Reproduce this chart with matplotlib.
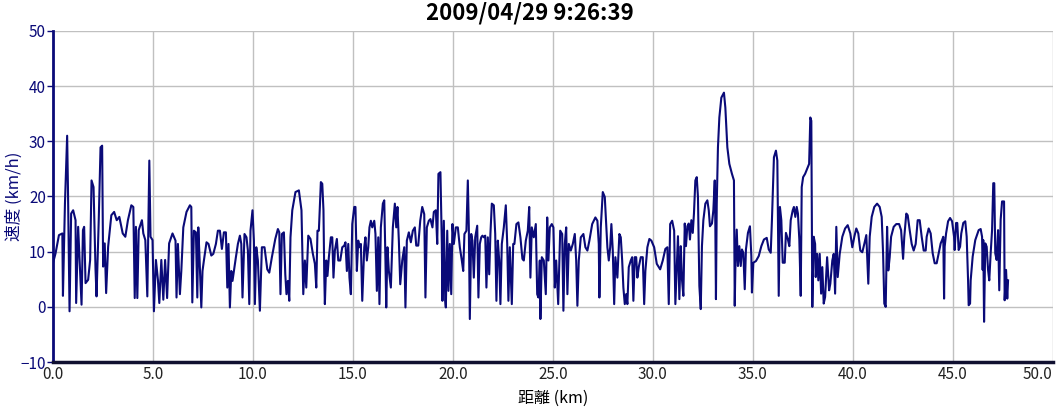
import matplotlib
matplotlib.use("Agg")
import matplotlib.pyplot as plt

# (distance km, speed km/h), one list per stretch of the ride
seg_00_06 = [(0.0, 7.9), (0.13, 9.7), (0.3, 13.0), (0.47, 13.3), (0.5, 2.0), (0.6, 18.7), (0.71, 31.0),
             (0.75, 21.7), (0.83, -0.8), (0.91, 16.9), (1.01, 17.5), (1.13, 15.7), (1.16, 0.7), (1.26, 14.5),
             (1.33, 8.5), (1.43, 0.4), (1.5, 13.9), (1.56, 14.5), (1.63, 4.3), (1.76, 4.9), (1.86, 8.5),
             (1.93, 22.9), (2.03, 21.7), (2.13, 6.7), (2.18, 1.9), (2.29, 15.7), (2.38, 28.9), (2.46, 29.2),
             (2.51, 7.3), (2.59, 11.5), (2.66, 2.5), (2.76, 10.9), (2.92, 16.6), (3.06, 17.2), (3.19, 15.7),
             (3.32, 16.3), (3.49, 13.3), (3.62, 12.7), (3.75, 15.7), (3.92, 18.4), (4.02, 18.1), (4.09, 1.6),
             (4.15, 14.5), (4.22, 1.6), (4.29, 13.9), (4.45, 15.7), (4.52, 13.3), (4.62, 12.1), (4.72, 1.9),
             (4.82, 26.5), (4.88, 12.7), (4.98, 12.1), (5.05, -0.8), (5.15, 8.5), (5.25, 4.9), (5.32, 0.7),
             (5.42, 8.5), (5.52, 1.3), (5.61, 8.5), (5.71, 1.6), (5.81, 11.5), (5.98, 13.3)]

seg_06_12 = [(6.13, 12.0), (6.18, 1.7), (6.25, 11.4), (6.35, 2.3), (6.42, 6.5), (6.52, 14.4), (6.68, 17.2),
             (6.85, 18.4), (6.92, 18.1), (6.97, 0.8), (7.05, 13.8), (7.15, 13.5), (7.22, 1.7), (7.27, 14.4),
             (7.33, 9.0), (7.42, -0.1), (7.48, 6.5), (7.55, 8.4), (7.68, 11.7), (7.78, 11.4), (7.92, 9.3),
             (8.02, 9.6), (8.15, 11.4), (8.25, 13.8), (8.35, 13.8), (8.45, 10.5), (8.55, 13.5), (8.65, 13.5),
             (8.72, 3.5), (8.78, 11.4), (8.85, -0.1), (8.92, 6.5), (8.98, 4.7), (9.05, 6.5), (9.15, 9.0),
             (9.25, 11.4), (9.35, 12.9), (9.42, 11.4), (9.48, 1.7), (9.58, 13.2), (9.68, 12.6), (9.75, 10.2),
             (9.82, 0.5), (9.88, 13.8), (9.98, 17.5), (10.05, 12.0), (10.1, 0.5), (10.17, 10.8), (10.25, 8.4),
             (10.35, -0.7), (10.45, 10.8), (10.58, 10.8), (10.72, 6.8), (10.82, 6.2), (10.95, 9.0),
             (11.12, 12.3), (11.25, 14.1), (11.32, 13.5), (11.38, 2.3), (11.45, 13.2), (11.55, 13.5),
             (11.62, 5.9), (11.68, 2.3), (11.75, 4.7), (11.82, 1.1), (11.88, 12.6), (11.97, 17.5),
             (12.13, 20.8), (12.3, 21.1), (12.43, 17.5), (12.52, 2.3)]

seg_12_19 = [(12.6, 8.4), (12.67, 3.5), (12.77, 12.9), (12.88, 12.3), (13.0, 9.6), (13.1, 7.8), (13.17, 3.5),
             (13.23, 13.8), (13.3, 13.8), (13.4, 22.6), (13.47, 22.3), (13.53, 17.5), (13.57, 5.6), (13.6, 0.5),
             (13.67, 8.4), (13.73, 5.6), (13.8, 9.0), (13.9, 12.6), (13.97, 12.6), (14.03, 5.3), (14.1, 10.2),
             (14.2, 12.3), (14.27, 8.4), (14.37, 8.4), (14.47, 10.8), (14.57, 11.1), (14.63, 11.7), (14.7, 6.5),
             (14.77, 11.4), (14.83, 5.3), (14.9, 2.3), (14.97, 15.0), (15.07, 18.1), (15.13, 18.1), (15.2, 6.5),
             (15.27, 12.0), (15.33, 10.8), (15.4, 11.4), (15.47, 1.1), (15.57, 10.8), (15.63, 12.6), (15.7, 8.4),
             (15.77, 10.8), (15.83, 14.4), (15.9, 15.6), (15.97, 14.4), (16.07, 15.6), (16.13, 13.2),
             (16.2, 2.9), (16.27, 12.6), (16.33, 0.5), (16.4, 14.4), (16.5, 18.7), (16.57, 19.3), (16.63, 8.4),
             (16.67, -0.1), (16.73, 10.8), (16.8, 6.5), (16.9, 3.5), (17.0, 14.4), (17.1, 18.7), (17.17, 14.4),
             (17.23, 18.1), (17.3, 12.0), (17.37, 4.1), (17.47, 8.4), (17.57, 10.8), (17.63, -0.1), (17.7, 12.0),
             (17.8, 13.5), (17.9, 11.7), (18.0, 13.8), (18.1, 14.4), (18.17, 11.1), (18.27, 11.1), (18.37, 15.6),
             (18.47, 18.1), (18.57, 16.8), (18.63, 1.7), (18.7, 14.4), (18.8, 15.6)]

seg_19_25 = [(18.88, 15.9), (18.98, 14.4), (19.05, 17.2), (19.15, 17.5), (19.22, 11.4), (19.28, 24.1),
             (19.38, 24.4), (19.45, 11.4), (19.48, 1.1), (19.55, 15.6), (19.62, 1.1), (19.65, -0.1),
             (19.72, 13.8), (19.78, 2.9), (19.85, 11.4), (19.92, 2.3), (19.98, 15.0), (20.05, 11.4),
             (20.15, 14.4), (20.25, 14.4), (20.35, 10.8), (20.45, 8.4), (20.52, 6.5), (20.58, 13.2),
             (20.68, 13.8), (20.75, 22.9), (20.8, 14.4), (20.85, -2.2), (20.92, 13.2), (20.98, 12.0),
             (21.05, 5.3), (21.12, 12.6), (21.22, 14.7), (21.28, 1.7), (21.35, 11.4), (21.42, 12.6),
             (21.48, 12.9), (21.55, 12.6), (21.62, 12.9), (21.68, 3.5), (21.75, 12.6), (21.82, 5.9),
             (21.88, 13.2), (21.95, 18.7), (22.05, 18.4), (22.12, 13.2), (22.18, 1.1), (22.25, 12.0),
             (22.32, 8.4), (22.38, 0.5), (22.45, 11.4), (22.55, 14.4), (22.65, 18.4), (22.72, 11.4),
             (22.78, 1.1), (22.85, 10.8), (22.95, 0.5), (23.02, 11.4), (23.08, 11.4), (23.18, 15.0),
             (23.28, 15.3), (23.38, 12.6), (23.48, 8.7), (23.55, 8.4), (23.65, 12.0), (23.75, 13.8),
             (23.82, 18.1), (23.88, 5.3), (23.95, 14.4), (24.05, 12.6), (24.15, 15.0), (24.22, 2.3),
             (24.28, 1.7), (24.35, 8.4), (24.38, -2.2), (24.45, 9.0), (24.55, 8.4), (24.65, 2.3),
             (24.72, 16.2), (24.78, 8.4), (24.85, 14.4), (24.95, 15.0)]

seg_25_31 = [(25.03, 14.4), (25.1, 3.5), (25.17, 8.4), (25.27, 0.5), (25.37, 13.8), (25.47, 13.2),
             (25.53, -0.7), (25.6, 11.4), (25.67, 14.4), (25.73, 2.3), (25.8, 11.4), (25.9, 10.2),
             (26.0, 11.4), (26.1, 13.2), (26.17, 8.4), (26.23, 0.2), (26.3, 8.4), (26.4, 12.6), (26.53, 13.2),
             (26.63, 10.8), (26.73, 10.2), (26.83, 12.0), (26.97, 15.0), (27.13, 16.2), (27.23, 15.6),
             (27.3, 11.4), (27.33, 1.7), (27.4, 14.4), (27.5, 20.8), (27.6, 19.9), (27.67, 15.0), (27.73, 10.8),
             (27.8, 8.4), (27.87, 10.8), (27.93, 15.0), (28.0, 10.2), (28.07, 0.5), (28.13, 9.0), (28.23, 5.3),
             (28.33, 13.2), (28.4, 12.6), (28.47, 8.4), (28.53, 3.5), (28.6, 0.5), (28.67, 2.3), (28.73, 0.5),
             (28.8, 7.2), (28.9, 8.4), (28.97, 9.0), (29.03, 1.1), (29.1, 9.0), (29.17, 9.0), (29.23, 5.3),
             (29.3, 7.2), (29.4, 9.0), (29.5, 9.0), (29.57, 0.5), (29.63, 6.5), (29.73, 10.8), (29.83, 12.3),
             (29.93, 12.0), (30.07, 10.8), (30.2, 7.8), (30.37, 6.8), (30.5, 8.4), (30.63, 10.5), (30.73, 10.8),
             (30.8, 0.5), (30.87, 15.0), (30.97, 15.6), (31.07, 13.8), (31.13, 0.5)]

seg_31_37 = [(31.26, 12.8), (31.33, 1.4), (31.4, 11.0), (31.46, 5.0), (31.53, 2.0), (31.6, 15.1), (31.66, 11.0),
             (31.73, 14.6), (31.8, 15.1), (31.86, 12.2), (31.93, 15.7), (32.0, 13.4), (32.06, 16.9),
             (32.13, 22.9), (32.2, 23.5), (32.26, 19.9), (32.33, 3.8), (32.4, -0.4), (32.46, 11.0),
             (32.53, 15.7), (32.63, 18.7), (32.73, 19.3), (32.8, 17.5), (32.86, 14.6), (32.96, 15.1),
             (33.03, 17.5), (33.1, 22.9), (33.13, 14.6), (33.16, 1.4), (33.2, 18.7), (33.26, 28.9),
             (33.33, 34.3), (33.43, 37.9), (33.56, 38.8), (33.63, 36.1), (33.73, 28.9), (33.83, 25.9),
             (33.96, 24.1), (34.06, 22.9), (34.1, 0.2), (34.13, 6.8), (34.2, 14.0), (34.26, 7.4), (34.33, 11.0),
             (34.4, 7.4), (34.46, 10.4), (34.53, 9.8), (34.6, 3.2), (34.66, 10.4), (34.76, 13.4), (34.86, 14.6),
             (34.93, 9.2), (34.96, 2.6), (35.03, 8.0), (35.16, 8.3), (35.3, 9.2), (35.43, 11.0), (35.56, 12.2),
             (35.7, 12.5), (35.8, 10.4), (35.9, 9.8), (35.96, 15.7), (36.06, 27.1), (36.16, 28.3),
             (36.23, 26.5), (36.3, 2.0), (36.36, 18.1), (36.43, 15.7), (36.5, 8.0), (36.6, 8.0), (36.66, 13.4),
             (36.76, 12.2), (36.83, 11.0), (36.9, 15.7), (37.0, 17.5), (37.06, 18.1), (37.13, 16.3),
             (37.2, 18.1), (37.26, 16.9), (37.33, 12.2), (37.4, 2.0)]

seg_37_44 = [(37.45, 21.7), (37.52, 23.5), (37.62, 24.1), (37.75, 25.3), (37.82, 25.9), (37.88, 34.3),
             (37.93, 33.7), (37.98, 0.0), (38.05, 12.7), (38.12, 11.4), (38.15, 5.4), (38.22, 9.6), (38.28, 4.8),
             (38.35, 9.6), (38.42, 2.4), (38.48, 7.2), (38.55, 0.6), (38.62, 1.8), (38.72, 9.0), (38.82, 3.0),
             (38.88, 4.2), (38.98, 8.4), (39.05, 9.6), (39.12, 2.4), (39.18, 14.5), (39.25, 5.4), (39.35, 9.6),
             (39.48, 12.7), (39.62, 14.2), (39.75, 14.8), (39.88, 13.3), (39.98, 10.8), (40.08, 12.7),
             (40.18, 14.2), (40.28, 13.3), (40.38, 10.2), (40.48, 9.9), (40.58, 11.4), (40.68, 13.0),
             (40.78, 4.2), (40.85, 12.7), (40.95, 16.3), (41.08, 18.1), (41.22, 18.7), (41.35, 18.1),
             (41.45, 16.3), (41.52, 9.6), (41.58, 0.6), (41.65, 0.0), (41.72, 14.5), (41.78, 6.6), (41.85, 9.0),
             (41.92, 12.7), (42.05, 14.5), (42.18, 15.0), (42.32, 15.0), (42.42, 13.9), (42.52, 8.7),
             (42.58, 12.7), (42.68, 16.9), (42.75, 16.6), (42.85, 13.9), (42.95, 11.4), (43.05, 10.2),
             (43.15, 11.4), (43.25, 15.7), (43.35, 15.7), (43.45, 12.7), (43.55, 10.2), (43.65, 10.2)]

seg_44_48 = [(43.7, 12.7), (43.8, 14.2), (43.9, 13.3), (44.0, 9.7), (44.1, 7.9), (44.2, 7.9), (44.3, 9.7),
             (44.4, 11.5), (44.47, 12.1), (44.53, 12.7), (44.57, 1.5), (44.6, 10.9), (44.67, 13.3),
             (44.77, 15.5), (44.87, 16.1), (44.97, 15.5), (45.07, 12.7), (45.1, 10.3), (45.17, 15.2),
             (45.23, 15.2), (45.3, 10.3), (45.37, 10.9), (45.43, 13.3), (45.53, 15.2), (45.63, 15.5),
             (45.7, 12.7), (45.77, 4.8), (45.8, 0.3), (45.87, 0.6), (45.9, 4.8), (46.0, 9.1), (46.13, 12.1),
             (46.3, 13.9), (46.4, 14.1), (46.47, 12.7), (46.5, 6.7), (46.53, 12.1), (46.57, -2.7), (46.63, 11.5),
             (46.7, 10.9), (46.77, 6.7), (46.83, 4.8), (46.9, 9.7), (46.97, 13.9), (47.03, 22.4), (47.08, 22.4),
             (47.13, 9.7), (47.2, 8.5), (47.27, 13.9), (47.33, 3.0), (47.4, 15.8), (47.47, 19.1), (47.57, 19.1),
             (47.6, 1.2), (47.67, 6.7), (47.73, 1.5), (47.77, 4.8)]

x_ticks = [0, 5, 10, 15, 20, 25, 30, 35, 40, 45, 50]
x_tick_labels = ["0.0", "5.0", "10.0", "15.0", "20.0", "25.0", "30.0", "35.0", "40.0", "45.0", "50.0"]
y_ticks = [-10, 0, 10, 20, 30, 40, 50]

title = "2009/04/29 9:26:39"
x_label = "距離 (km)"
y_label = "速度 (km/h)"

plt.rcParams['font.family'] = ['Noto Sans CJK JP', 'DejaVu Sans']

points = seg_00_06 + seg_06_12 + seg_12_19 + seg_19_25 + seg_25_31 + seg_31_37 + seg_37_44 + seg_44_48
dist = [p[0] for p in points]
speed = [p[1] for p in points]

navy = '#0a0a78'

fig = plt.figure(figsize=(10.59, 4.11), dpi=100)
ax = fig.add_axes([0.05, 0.119, 0.944, 0.806])

ax.plot(dist, speed, color=navy, linewidth=1.5, solid_joinstyle='round')

ax.set_xlim(0, 50)
ax.set_ylim(-10, 50)
ax.set_xticks(x_ticks)
ax.set_xticklabels(x_tick_labels)
ax.set_yticks(y_ticks)
ax.grid(True, color='#c0c0c0', linewidth=1)
ax.set_axisbelow(True)

for side in ['top', 'right']:
    ax.spines[side].set_visible(False)
ax.spines['left'].set_color(navy)
ax.spines['left'].set_linewidth(2)
ax.spines['bottom'].set_color('#101030')
ax.spines['bottom'].set_linewidth(2.5)

ax.tick_params(axis='y', colors=navy, labelsize=11, length=4, width=1, pad=1)
ax.tick_params(axis='x', colors='#222222', labelsize=11, length=0, pad=3)
# last label would run off the right edge, pull it inside like the original
ax.get_xticklabels()[-1].set_horizontalalignment('right')

# title is centred on the whole figure, not on the axes
fig.text(0.5, 1 - 12.5 / 411, title, ha='center', va='center', fontsize=16, fontweight='bold')
ax.set_xlabel(x_label, fontsize=11.5)
ax.xaxis.set_label_coords(0.5, -0.109)
ax.xaxis.label.set_va('center')
ax.set_ylabel(y_label, fontsize=12, color=navy)
ax.yaxis.set_label_coords(-0.039, 0.5)
ax.yaxis.label.set_va('center')

fig.savefig('out.png', dpi=100)
